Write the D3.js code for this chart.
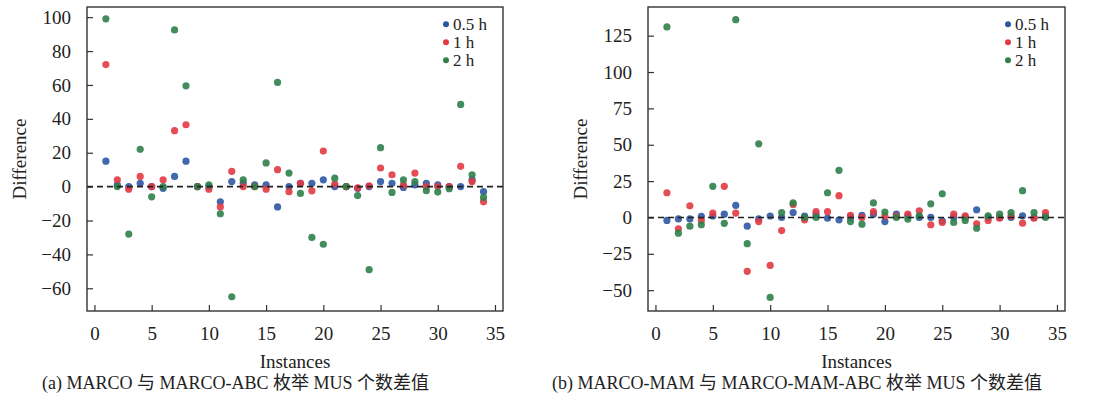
<!DOCTYPE html>
<html>
<head>
<meta charset="utf-8">
<script src="https://cdn.jsdelivr.net/npm/d3@7"></script>
<style>
  body { margin: 0; background: #fff; }
  svg text { font-family: "Liberation Serif", "Times New Roman", serif; fill: #222; }
  .caption { font-family: "Liberation Serif", "Noto Sans CJK SC", serif; }
</style>
</head>
<body>
<svg id="chart" width="1093" height="405"></svg>
<script>
// instance numbers 1..34
const instances = d3.range(1, 35);
const seriesNames = ["0.5 h", "1 h", "2 h"];
const seriesColors = ["#2d56a3", "#e23a42", "#2f7f4a"];
const xTicks = [0, 5, 10, 15, 20, 25, 30, 35];

// (a) MARCO vs MARCO-ABC
const aHalf = [15, 1, 0, 2, 0, -1, 6, 15, 0, 0, -9, 3, 2, 1, 1, -12, 0, 2, 2, 4, 0, 0, -1, 0, 3, 2, -0.5, 1, 2, 1, 0, 0, 4, -3];
const aOne  = [72, 4, -1.5, 6, 0, 4, 33, 36.5, 0, -1.5, -12, 9, 0, 0, -1.5, 10, -3, 2, -2.5, 21, 1.5, 0, -0.7, 0.5, 11, 7, 1, 8, 0, 0, 0, 12, 3, -9];
const aTwo  = [99, 0, -28, 22, -6, 0, 92.5, 59.5, 0, 1, -16, -65, 4, 0, 14, 61.5, 8, -4, -30, -34, 5, 0, -5.3, -49, 23, -3.4, 4, 3, -2.4, -3.2, -1.2, 48.5, 7, -6.4];
const aTicks = [-60, -40, -20, 0, 20, 40, 60, 80, 100];

// (b) MARCO-MAM vs MARCO-MAM-ABC
const bHalf = [-2, -1, -1, 0.7, 1, 2.3, 8.3, -6, -1, 1, 0, 3.4, 1, 2, -0.5, -1.6, 0, 1.4, 2.3, -2.8, 2.3, 1, 0, 0, -2.3, 0, 0, 5.3, 0, 0, 0, 1.1, 0, 1];
const bOne  = [17, -7.8, 8, -2, 3, 21.4, 3, -37, -2.8, -33, -9, 9, -1.6, 4, 4, 15, 1.4, 0, 4, 1, 1, 2.3, 4.6, -5, -3.4, 2.3, 1.1, -4.4, -2, -0.5, 1, -3.9, -0.5, 3.4];
const bTwo  = [131, -10.8, -6, -5, 21.4, -4, 136, -18, 50.6, -55, 3.4, 10, 0, 0, 17, 32.4, -2.8, -4.6, 10, 3.7, 0, -1.1, 1.1, 9.4, 16.3, -3.4, -2, -7.4, 1.1, 2.3, 3.4, 18.4, 3.4, 0];
const bTicks = [-50, -25, 0, 25, 50, 75, 100, 125];

const svg = d3.select("#chart");

function drawPanel(p) {
  const x = d3.scaleLinear().domain([-0.65, 35.7]).range([p.left, p.right]);
  const y = d3.scaleLinear().domain(p.yDomain).range([p.bottom, p.top]);
  const g = svg.append("g");

  // axes, ticks pointing in
  g.append("g")
    .attr("transform", "translate(0," + p.bottom + ")")
    .call(d3.axisBottom(x).tickValues(xTicks).tickSizeInner(-6).tickSizeOuter(0).tickPadding(15.5))
    .call((a) => a.select(".domain").remove())
    .selectAll("text").style("font-size", "19px");

  g.append("g")
    .attr("transform", "translate(" + p.left + ",0)")
    .call(d3.axisLeft(y).tickValues(p.yTicks).tickSizeInner(-6).tickSizeOuter(0).tickPadding(16))
    .call((a) => a.select(".domain").remove())
    .selectAll("text").style("font-size", "19px");

  g.selectAll(".tick line").attr("stroke", "#333").attr("stroke-width", 1.2);

  // data points
  const series = [p.half, p.one, p.two];
  series.forEach(function (vals, k) {
    g.append("g")
      .selectAll("circle")
      .data(vals)
      .enter()
      .append("circle")
      .attr("cx", (d, i) => x(instances[i]))
      .attr("cy", (d) => y(d))
      .attr("r", 3.6)
      .attr("fill", seriesColors[k])
      .attr("opacity", 0.9);
  });

  // zero line
  g.append("line")
    .attr("x1", p.left).attr("x2", p.right)
    .attr("y1", y(0)).attr("y2", y(0))
    .attr("stroke", "#222")
    .attr("stroke-width", 1.6)
    .attr("stroke-dasharray", "6,4");

  // frame
  g.append("rect")
    .attr("x", p.left).attr("y", p.top)
    .attr("width", p.right - p.left).attr("height", p.bottom - p.top)
    .attr("fill", "none")
    .attr("stroke", "#333")
    .attr("stroke-width", 1.4);

  // legend
  seriesNames.forEach(function (name, k) {
    const ly = 24.3 + k * 18;
    g.append("circle").attr("cx", p.legendX).attr("cy", ly).attr("r", 3).attr("fill", seriesColors[k]);
    g.append("text")
      .attr("x", p.legendX + 7).attr("y", ly).attr("dy", "0.34em")
      .style("font-size", "17px")
      .text(name);
  });

  g.append("text")
    .attr("transform", "translate(" + p.labelX + "," + (p.top + p.bottom) / 2 + ") rotate(-90)")
    .attr("text-anchor", "middle")
    .style("font-size", "19px")
    .text("Difference");

  g.append("text")
    .attr("x", (p.left + p.right) / 2)
    .attr("y", 368)
    .attr("text-anchor", "middle")
    .style("font-size", "19px")
    .text("Instances");

  g.append("text")
    .attr("class", "caption")
    .attr("x", p.captionX)
    .attr("y", 389)
    .style("font-size", "18px")
    .text(p.caption);
}

drawPanel({
  left: 87, right: 503, top: 7, bottom: 311,
  yDomain: [-73.4, 106], yTicks: aTicks,
  half: aHalf, one: aOne, two: aTwo,
  legendX: 446, labelX: 26, captionX: 42,
  caption: "(a) MARCO 与 MARCO-ABC 枚举 MUS 个数差值"
});

drawPanel({
  left: 648, right: 1065, top: 7, bottom: 311,
  yDomain: [-64.3, 144.7], yTicks: bTicks,
  half: bHalf, one: bOne, two: bTwo,
  legendX: 1008, labelX: 587, captionX: 552,
  caption: "(b) MARCO-MAM 与 MARCO-MAM-ABC 枚举 MUS 个数差值"
});
</script>
</body>
</html>
